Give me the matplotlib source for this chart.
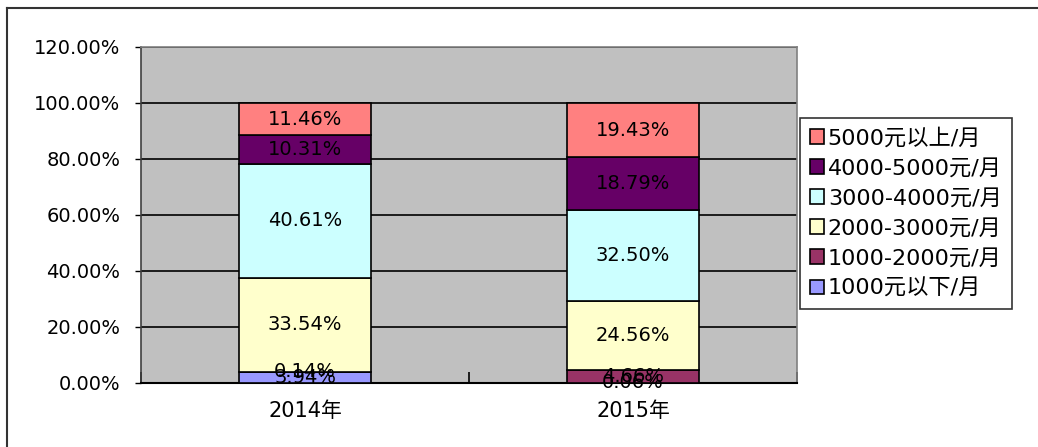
import matplotlib
matplotlib.use("Agg")
import matplotlib.pyplot as plt
from matplotlib.lines import Line2D
from matplotlib.ticker import FuncFormatter, MultipleLocator

plt.rcParams['font.family'] = ['DejaVu Sans', 'Noto Sans CJK SC']

years = ["2014年", "2015年"]
series_names = ["1000元以下/月", "1000-2000元/月", "2000-3000元/月",
                "3000-4000元/月", "4000-5000元/月", "5000元以上/月"]
below_1000 = [3.94, 0.06]
r1000_2000 = [0.14, 4.66]
r2000_3000 = [33.54, 24.56]
r3000_4000 = [40.61, 32.50]
r4000_5000 = [10.31, 18.79]
above_5000 = [11.46, 19.43]
series_values = [below_1000, r1000_2000, r2000_3000, r3000_4000, r4000_5000, above_5000]
colors = ["#9999FF", "#993366", "#FFFFCC", "#CCFFFF", "#660066", "#FF8080"]

W, H = 1038, 447
fig = plt.figure(figsize=(W / 100, H / 100), dpi=100)
ax = fig.add_axes([141 / W, 1 - 383 / H, (797 - 141) / W, (383 - 47) / H])
ax.set_facecolor("#C0C0C0")

x = list(range(len(years)))
bottoms = [0.0] * len(years)
handles = []
for name, vals, c in zip(series_names, series_values, colors):
    bars = ax.bar(x, vals, width=0.4, bottom=bottoms, color=c,
                  edgecolor="black", linewidth=1.2, zorder=3, label=name)
    for xi, v, b in zip(x, vals, bottoms):
        ax.text(xi, b + v / 2, f"{v:.2f}%", ha="center", va="center",
                fontsize=14, color="black", zorder=4)
    bottoms = [b + v for b, v in zip(bottoms, vals)]
    handles.append(bars)

ax.set_xlim(-0.5, 1.5)
ax.set_ylim(0, 120)
ax.yaxis.set_major_locator(MultipleLocator(20))
ax.yaxis.set_major_formatter(FuncFormatter(lambda v, p: f"{v:.2f}%"))
ax.grid(axis="y", color="black", linewidth=1.2, zorder=1)
ax.set_axisbelow(True)

ax.set_xticks(x)
ax.set_xticklabels(years, fontsize=15)
ax.set_xticks([-0.5, 0.5, 1.5], minor=True)
ax.tick_params(axis="x", which="major", length=0, pad=13)
ax.tick_params(axis="x", which="minor", length=8, direction="in", width=1.2)
ax.tick_params(axis="y", length=4, width=1, pad=11, labelsize=14)

for s in ["top", "right"]:
    ax.spines[s].set_color("#808080")
    ax.spines[s].set_linewidth(1.2)
ax.spines["left"].set_color("#404040")
ax.spines["left"].set_linewidth(1.2)
ax.spines["bottom"].set_color("black")
ax.spines["bottom"].set_linewidth(1.5)

leg = fig.legend(handles[::-1], series_names[::-1], loc="upper left",
                 bbox_to_anchor=(800 / W, 1 - 118 / H), fontsize=16,
                 frameon=True, fancybox=False, edgecolor="black",
                 handlelength=0.65, handleheight=0.65, handletextpad=0.15,
                 labelspacing=0.45, borderpad=0.45, borderaxespad=0)
leg.get_frame().set_linewidth(1.2)

# outer chart frame (top and left)
fig.add_artist(Line2D([7 / W, 1], [1 - 8 / H, 1 - 8 / H], color="#333333", linewidth=1.5))
fig.add_artist(Line2D([7 / W, 7 / W], [0, 1 - 8 / H], color="#333333", linewidth=1.5))

fig.savefig("out.png", dpi=100, facecolor="white")
